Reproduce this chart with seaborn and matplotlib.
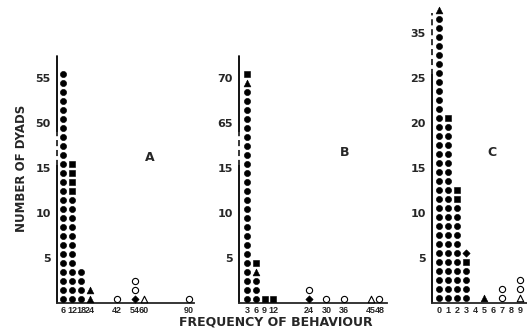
import matplotlib
matplotlib.use("Agg")
import matplotlib.pyplot as plt
import pandas as pd
import seaborn as sns

# Panel A: frequency values and marker stacks (bottom -> top)
a_x = [6, 12, 18, 24, 42, 54, 60, 90]
a_stacks = [
    [("dot", 26)],
    [("dot", 12), ("square", 4)],
    [("dot", 4)],
    [("tri", 2)],
    [("ocircle", 1)],
    [("diamond", 1), ("ocircle", 2)],
    [("otri", 1)],
    [("ocircle", 1)],
]
a_ylabels = ["5", "10", "15", "50", "55"]

# Panel B
b_x = [3, 6, 9, 12, 24, 30, 36, 45, 48]
b_stacks = [
    [("dot", 24), ("tri", 1), ("square", 1)],
    [("dot", 3), ("tri", 1), ("square", 1)],
    [("square", 1)],
    [("square", 1)],
    [("diamond", 1), ("ocircle", 1)],
    [("ocircle", 1)],
    [("ocircle", 1)],
    [("otri", 1)],
    [("ocircle", 1)],
]
b_ylabels = ["5", "10", "15", "65", "70"]

# Panel C
c_x = [0, 1, 2, 3, 5, 7, 9]
c_xticks = [0, 1, 2, 3, 4, 5, 6, 7, 8, 9]
c_stacks = [
    [("dot", 32), ("tri", 1)],
    [("dot", 20), ("square", 1)],
    [("dot", 11), ("square", 2)],
    [("dot", 4), ("square", 1), ("diamond", 1)],
    [("tri", 1)],
    [("ocircle", 2)],
    [("otri", 1), ("ocircle", 2)],
]
c_ylabels = ["5", "10", "15", "20", "25", "35"]

# marker styles
styles = {
    "dot": dict(marker="o", color="black", s=20, lw=0.4),
    "square": dict(marker="s", color="black", s=19, lw=0.4),
    "tri": dict(marker="^", color="black", s=24, lw=0.4),
    "diamond": dict(marker="D", color="black", s=14, lw=0.4),
    "ocircle": dict(marker="o", color="white", s=20, lw=0.8),
    "otri": dict(marker="^", color="white", s=22, lw=0.8),
}

narrow = ["Liberation Sans Narrow", "Liberation Sans", "DejaVu Sans"]


def stack_frame(xs, stacks):
    rows = []
    for x, stack in zip(xs, stacks):
        level = 0
        for kind, n in stack:
            for i in range(n):
                rows.append({"freq": x, "level": level + 0.5, "kind": kind})
                level += 1
    return pd.DataFrame(rows)


def draw_panel(ax, xs, stacks, xticks, ylabels, xlim, ytop, brk, letter_xy, letter):
    df = stack_frame(xs, stacks)
    for kind, sub in df.groupby("kind"):
        st = styles[kind]
        sns.scatterplot(data=sub, x="freq", y="level", ax=ax, marker=st["marker"],
                        color=st["color"], s=st["s"], edgecolor="black",
                        linewidth=st["lw"], clip_on=False, zorder=3, legend=False)
    ax.set_xlim(*xlim)
    ax.set_ylim(0, ytop)
    ax.set_xticks(xticks)
    ax.set_xticklabels([str(t) for t in xticks], fontsize=6.5, fontweight="bold",
                       family=narrow)
    yt = [5 * (i + 1) for i in range(len(ylabels))]
    ax.set_yticks(yt)
    ax.set_yticklabels(ylabels, fontsize=8, fontweight="bold")
    ax.tick_params(axis="y", direction="inout", length=7, width=1, pad=1)
    ax.tick_params(axis="x", length=0, pad=2)
    for s in ["top", "right", "left"]:
        ax.spines[s].set_visible(False)
    ax.spines["bottom"].set_linewidth(1.3)
    # y axis with a break drawn as a dashed segment
    x0 = xlim[0]
    ax.plot([x0, x0], [0, brk[0]], color="black", lw=1.3, clip_on=False)
    ax.plot([x0, x0], [brk[0], brk[1]], color="black", lw=1.1, ls=(0, (4, 2.5)), clip_on=False)
    if brk[1] < ytop:
        ax.plot([x0, x0], [brk[1], ytop], color="black", lw=1.3, clip_on=False)
    ax.set_xlabel("")
    ax.set_ylabel("")
    fig.text(letter_xy[0] / 527, 1 - letter_xy[1] / 330, letter, fontsize=9,
             fontweight="bold", ha="center", va="center")


sns.set_style("white")
plt.rcParams["font.family"] = ["DejaVu Sans"]

fig = plt.figure(figsize=(5.27, 3.30), dpi=100)
ax_a = fig.add_axes([57 / 527, 27 / 330, 137 / 527, 247 / 330])
ax_b = fig.add_axes([239 / 527, 27 / 330, 148 / 527, 247 / 330])
ax_c = fig.add_axes([432 / 527, 27 / 330, 95 / 527, 290 / 330])

draw_panel(ax_a, a_x, a_stacks, a_x, a_ylabels, (2, 93.3), 27.5, (15.3, 19.2), (150, 157), "A")
draw_panel(ax_b, b_x, b_stacks, b_x, b_ylabels, (0.28, 50.6), 27.5, (15.3, 19.2), (345, 153), "B")
draw_panel(ax_c, c_x, c_stacks, c_xticks, c_ylabels, (-0.78, 9.78), 32.2, (25.3, 32.2), (492, 153), "C")

fig.text(22 / 527, 1 - 168 / 330, "NUMBER OF DYADS", rotation=90, fontsize=8.5,
         fontweight="bold", ha="center", va="center")
fig.text(276 / 527, 1 - 322 / 330, "FREQUENCY OF BEHAVIOUR", fontsize=9,
         fontweight="bold", ha="center", va="center")

fig.savefig("out.png", dpi=100, facecolor="white")
